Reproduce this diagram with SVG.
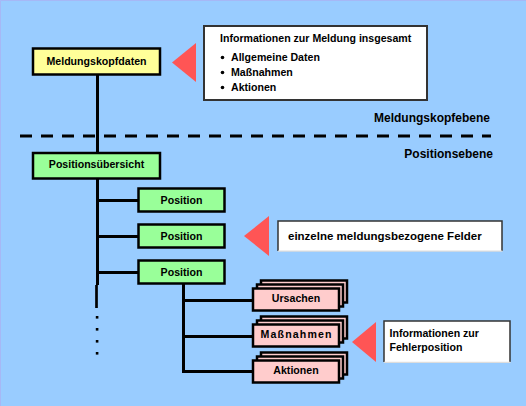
<svg xmlns="http://www.w3.org/2000/svg" width="526" height="406" viewBox="0 0 526 406">
<style>
text{font-family:"Liberation Sans",Arial,sans-serif;font-weight:bold;fill:#000}
.n{stroke:#000;stroke-width:2.5}
.y{fill:#FFFF99}
.g{fill:#99FF99}
.p{fill:#FFCCCC}
.c{stroke:#000;stroke-width:3;fill:none}
.tri{fill:#FF5555}
.info{fill:#fff;stroke:#333;stroke-width:2}
.s{font-size:10.6px}
.m{text-anchor:middle}
.l{font-size:12px;text-anchor:end}
</style>
<rect x="0" y="0" width="526" height="406" fill="#99CCFF"/>
<path d="M0.5,406 V0.5 H526" fill="none" stroke="#A6B8F6" stroke-width="1"/>
<g id="connectors">
<line class="c" x1="97.5" y1="75" x2="97.5" y2="285"/>
<line x1="96.5" y1="285" x2="96.5" y2="308" stroke="#000" stroke-width="2.7"/>
<rect x="95.8" y="316" width="2.6" height="2.6"/>
<rect x="95.8" y="328" width="2.6" height="2.6"/>
<rect x="95.8" y="340" width="2.6" height="2.6"/>
<rect x="95.8" y="352" width="2.6" height="2.6"/>
<line class="c" x1="97.5" y1="200.5" x2="138" y2="200.5"/>
<line class="c" x1="97.5" y1="236.5" x2="138" y2="236.5"/>
<line class="c" x1="97.5" y1="272.5" x2="138" y2="272.5"/>
<line class="c" x1="183.5" y1="284" x2="183.5" y2="373"/>
<line class="c" x1="183.5" y1="300.5" x2="252" y2="300.5"/>
<line class="c" x1="183.5" y1="336.5" x2="252" y2="336.5"/>
<line class="c" x1="183.5" y1="371.5" x2="252" y2="371.5"/>
</g>
<g id="ebenen">
<line x1="20" y1="136" x2="491" y2="136" stroke="#000" stroke-width="3" stroke-dasharray="12 9"/>
<text class="l" x="490" y="122">Meldungskopfebene</text>
<text class="l" x="493" y="157.5">Positionsebene</text>
</g>
<g id="meldungskopfdaten">
<rect class="n y" x="33" y="48.5" width="127" height="26"/>
<text class="s m" x="96.5" y="65">Meldungskopfdaten</text>
</g>
<g id="positionsuebersicht">
<rect class="n g" x="33" y="153" width="127" height="25.5"/>
<text class="s m" x="96.5" y="168.3">Positionsübersicht</text>
</g>
<g id="position1">
<rect class="n g" x="138.5" y="188.5" width="86" height="23"/>
<text class="s m" x="181.5" y="204">Position</text>
</g>
<g id="position2">
<rect class="n g" x="138.5" y="224.5" width="86" height="23"/>
<text class="s m" x="181.5" y="240">Position</text>
</g>
<g id="position3">
<rect class="n g" x="138.5" y="260.5" width="86" height="23"/>
<text class="s m" x="181.5" y="276">Position</text>
</g>
<g id="ursachen">
<rect class="n p" x="261" y="280.5" width="86" height="22"/>
<rect class="n p" x="257" y="284.5" width="86" height="22"/>
<rect class="n p" x="253" y="288.5" width="86" height="22"/>
<text class="s m" x="296" y="302.3">Ursachen</text>
</g>
<g id="massnahmen">
<rect class="n p" x="261" y="316.5" width="86" height="22"/>
<rect class="n p" x="257" y="320.5" width="86" height="22"/>
<rect class="n p" x="253" y="324.5" width="86" height="22"/>
<text class="s m" x="296" y="338.3" textLength="71" lengthAdjust="spacing">Maßnahmen</text>
</g>
<g id="aktionen">
<rect class="n p" x="261" y="352.5" width="86" height="22"/>
<rect class="n p" x="257" y="356.5" width="86" height="22"/>
<rect class="n p" x="253" y="360.5" width="86" height="22"/>
<text class="s m" x="296" y="374.3">Aktionen</text>
</g>
<g id="hinweis-meldung">
<polygon class="tri" points="172,62.5 196,43 196,82"/>
<rect class="info" x="204" y="26" width="223" height="74"/>
<text class="s" x="220" y="42">Informationen zur Meldung insgesamt</text>
<circle cx="222.5" cy="57.5" r="1.8"/>
<circle cx="222.5" cy="72.5" r="1.8"/>
<circle cx="222.5" cy="87.5" r="1.8"/>
<text class="s" x="231" y="61">Allgemeine Daten</text>
<text class="s" x="231" y="76">Maßnahmen</text>
<text class="s" x="231" y="91">Aktionen</text>
</g>
<g id="hinweis-position">
<polygon class="tri" points="244,236 269,216 269,256"/>
<rect x="278" y="221" width="224" height="30" fill="#fff"/>
<path d="M278,251 V221 H502 V251" fill="none" stroke="#333" stroke-width="1.5"/>
<line x1="278" y1="251.2" x2="502.5" y2="251.2" stroke="#DDDDDD" stroke-width="1.2"/>
<text x="288" y="239.5" font-size="11.5px">einzelne meldungsbezogene Felder</text>
</g>
<g id="hinweis-fehlerposition">
<polygon class="tri" points="352,342 376,322 376,362"/>
<rect x="384" y="321" width="126" height="41" fill="#fff"/>
<path d="M384,362 V321 H510 V362" fill="none" stroke="#333" stroke-width="1.5"/>
<line x1="384" y1="362.3" x2="510.5" y2="362.3" stroke="#DDDDDD" stroke-width="1.2"/>
<text class="s" x="389.5" y="337">Informationen zur</text>
<text class="s" x="389.5" y="351">Fehlerposition</text>
</g>
</svg>
